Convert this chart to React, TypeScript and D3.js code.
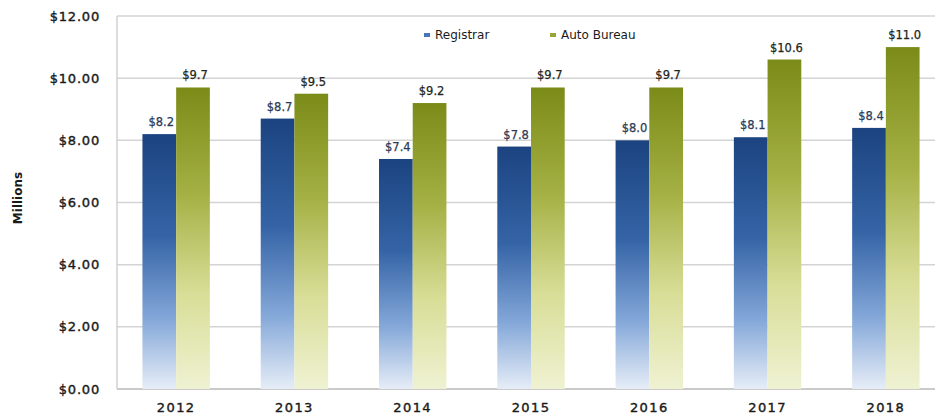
import React from "react";
import * as d3 from "d3";

const years = ["2012", "2013", "2014", "2015", "2016", "2017", "2018"];
const seriesNames = ["Registrar", "Auto Bureau"];
const registrar = [8.2, 8.7, 7.4, 7.8, 8.0, 8.1, 8.4];
const autoBureau = [9.7, 9.5, 9.2, 9.7, 9.7, 10.6, 11.0];
const yTicks = [0, 2, 4, 6, 8, 10, 12];

const W = 935;
const H = 417;
const left = 117;
const right = 945;
const top = 16;
const bottom = 389;

export default function App() {
  const x0 = d3.scaleBand<string>().domain(years).range([left, right]).paddingInner(0.43).paddingOuter(0.215);
  const x1 = d3.scaleBand<string>().domain(seriesNames).range([0, x0.bandwidth()]).padding(0);
  const y = d3.scaleLinear().domain([0, 12]).range([bottom, top]);
  const series = [
    { name: "Registrar", values: registrar, grad: "gBlue", label: "#2c3a55" },
    { name: "Auto Bureau", values: autoBureau, grad: "gGreen", label: "#23261a" },
  ];
  const font = "'DejaVu Sans', Verdana, sans-serif";
  return (
    <svg width={W} height={H} style={{ position: "absolute", left: 0, top: 0, background: "#fff" }} fontFamily={font}>
      <defs>
        <linearGradient id="gBlue" x1="0" y1="0" x2="0" y2="1">
          <stop offset="0" stopColor="#1b4380" />
          <stop offset="0.4" stopColor="#3564a6" />
          <stop offset="0.72" stopColor="#82a6d8" />
          <stop offset="1" stopColor="#e6edf7" />
        </linearGradient>
        <linearGradient id="gGreen" x1="0" y1="0" x2="0" y2="1">
          <stop offset="0" stopColor="#7b8b18" />
          <stop offset="0.35" stopColor="#a4b043" />
          <stop offset="0.68" stopColor="#d8dd96" />
          <stop offset="1" stopColor="#eff2d2" />
        </linearGradient>
      </defs>
      {yTicks.map((t) => (
        <g key={t}>
          <line x1={left} x2={W} y1={y(t)} y2={y(t)} stroke={t === 0 ? "#b8b8b8" : "#d4d4d4"} strokeWidth={1.5} />
          <text x={100} y={y(t)} dy="0.35em" textAnchor="end" fontSize={13} fill="#1a1a1a" stroke="#1a1a1a" strokeWidth={0.4} letterSpacing={0.8}>
            {`$${t.toFixed(2)}`}
          </text>
        </g>
      ))}
      <line x1={left} x2={left} y1={top} y2={bottom} stroke="#d0d0d0" strokeWidth={1.5} />
      {years.map((yr, i) => (
        <g key={yr}>
          {series.map((s) => {
            const v = s.values[i];
            const bx = (x0(yr) as number) + (x1(s.name) as number);
            const bw = x1.bandwidth();
            return (
              <g key={s.name}>
                <rect x={bx} y={y(v)} width={bw} height={bottom - y(v)} fill={`url(#${s.grad})`} />
                <text x={bx + bw / 2 + 2} y={y(v) - 8} textAnchor="middle" fontSize={11.5} fill={s.label} stroke={s.label} strokeWidth={0.25}>
                  {`$${v.toFixed(1)}`}
                </text>
              </g>
            );
          })}
          <text x={(x0(yr) as number) + x0.bandwidth() / 2} y={412} textAnchor="middle" fontSize={13} fill="#1a1a1a" stroke="#1a1a1a" strokeWidth={0.4} letterSpacing={1.4}>
            {yr}
          </text>
        </g>
      ))}
      <text transform={`translate(22,198) rotate(-90)`} textAnchor="middle" fontSize={12} fontWeight="bold" fill="#1a1a1a">
        Millions
      </text>
      <g>
        <rect x={424} y={33} width={6} height={4} fill="#4a74b8" />
        <text x={435} y={39} fontSize={12} fill="#1a1a1a">{seriesNames[0]}</text>
        <rect x={550} y={33} width={6} height={4} fill="#9aa43a" />
        <text x={561} y={39} fontSize={12} fill="#1a1a1a">{seriesNames[1]}</text>
      </g>
    </svg>
  );
}
